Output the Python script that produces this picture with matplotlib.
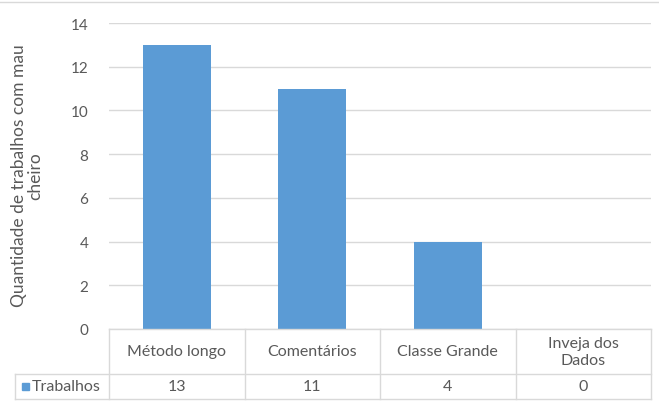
import matplotlib
matplotlib.use("Agg")
import matplotlib.pyplot as plt
from matplotlib.transforms import blended_transform_factory

# ---------------------------------------------------------------------------
# Data
# ---------------------------------------------------------------------------
categories = ["Método longo", "Comentários", "Classe Grande", "Inveja dos\nDados"]
values = [13, 11, 4, 0]
series_name = "Trabalhos"
y_ticks = [0, 2, 4, 6, 8, 10, 12, 14]
y_title = "Quantidade de trabalhos com mau\ncheiro"

BAR_COLOR = "#5B9BD5"
GRID_COLOR = "#D9D9D9"
TEXT_COLOR = "#595959"
FS = 11.5

plt.rcParams["font.family"] = ["Lato", "DejaVu Sans"]

W, H = 659, 406
fig = plt.figure(figsize=(W / 100, H / 100), dpi=100)

# plot area in pixels (left, top, right, bottom)
px_l, px_t, px_r, px_b = 109, 24, 651, 330
ax = fig.add_axes([px_l / W, 1 - px_b / H, (px_r - px_l) / W, (px_b - px_t) / H])

x = list(range(len(categories)))
ax.bar(x, values, width=0.5, color=BAR_COLOR, zorder=3)

ax.set_xlim(-0.5, len(categories) - 0.5)
ax.set_ylim(0, 14)
ax.set_yticks(y_ticks)
ax.set_yticklabels([str(v) for v in y_ticks], fontsize=11, color=TEXT_COLOR)
ax.tick_params(axis="y", length=0, pad=15)
ax.set_xticks([])
ax.grid(axis="y", color=GRID_COLOR, linewidth=1, zorder=0)
for s in ax.spines.values():
    s.set_visible(False)


def fx(px):
    return px / W

def fy(py):
    return 1 - py / H


# axis title, both lines centred
fig.text(fx(27), fy(176), y_title, rotation=90, ha="center", va="center",
         multialignment="center", fontsize=12.5, color=TEXT_COLOR,
         linespacing=1.05)

# ---------------------------------------------------------------------------
# Data table below the chart (Excel style)
# ---------------------------------------------------------------------------
row1_bot, row2_bot = 375, 400
tab_left = 15
line_kw = dict(color=GRID_COLOR, linewidth=1, transform=fig.transFigure)

trans = blended_transform_factory(ax.transData, fig.transFigure)

# horizontal lines
fig.add_artist(plt.Line2D([fx(px_l), fx(px_r)], [fy(px_b), fy(px_b)], **line_kw))
fig.add_artist(plt.Line2D([fx(tab_left), fx(px_r)], [fy(row1_bot), fy(row1_bot)], **line_kw))
fig.add_artist(plt.Line2D([fx(tab_left), fx(px_r)], [fy(row2_bot), fy(row2_bot)], **line_kw))

# vertical lines between columns
for i in range(len(categories) + 1):
    xb = i - 0.5
    ax.plot([xb, xb], [fy(px_b), fy(row2_bot)], color=GRID_COLOR, linewidth=1,
            transform=trans, clip_on=False)
fig.add_artist(plt.Line2D([fx(tab_left), fx(tab_left)], [fy(row1_bot), fy(row2_bot)], **line_kw))

# cell texts
for xi, cat, v in zip(x, categories, values):
    ax.text(xi, fy((px_b + row1_bot) / 2), cat, transform=trans, ha="center",
            va="center", fontsize=FS, color=TEXT_COLOR, linespacing=1.3)
    ax.text(xi, fy((row1_bot + row2_bot) / 2), str(v), transform=trans,
            ha="center", va="center", fontsize=FS, color=TEXT_COLOR)

# series key in the left column
ky = (row1_bot + row2_bot) / 2
fig.add_artist(plt.Rectangle((fx(22), fy(ky + 3.5)), 7 / W, 7 / H,
                             color=BAR_COLOR, transform=fig.transFigure))
fig.text(fx(32), fy(ky), series_name, ha="left", va="center", fontsize=FS,
         color=TEXT_COLOR)

# chart frame line at the top
fig.add_artist(plt.Line2D([0, 1], [fy(3), fy(3)], **line_kw))

fig.savefig("out.png", dpi=100)
